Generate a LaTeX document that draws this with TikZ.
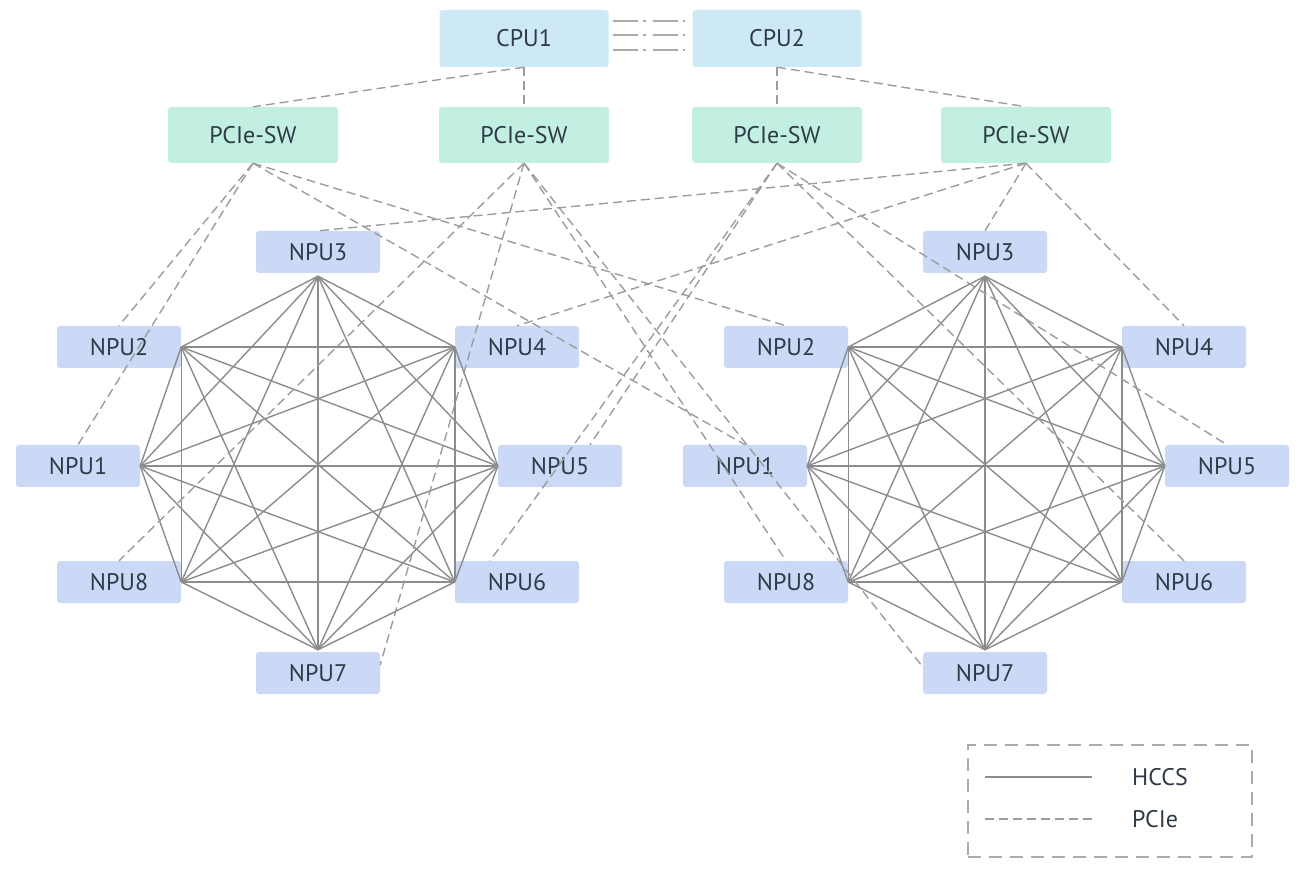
\documentclass[tikz,border=0pt]{standalone}
\usepackage{fontspec}
\setmainfont{PT Sans}
\definecolor{cpufill}{HTML}{CDE9F6}
\definecolor{swfill}{HTML}{C3EFE2}
\definecolor{npufill}{HTML}{CBD9F6}
\definecolor{txt}{HTML}{2E3B47}
\definecolor{hccsc}{HTML}{8C8C8C}
\definecolor{pciec}{HTML}{9C9C9C}
\begin{document}
\begin{tikzpicture}[x=1pt,y=-1pt,
  box/.style={rectangle, rounded corners=3pt, inner sep=0pt, text=txt,
              font=\fontsize{24}{28}\selectfont},
  cpu/.style={box, fill=cpufill, minimum width=169pt, minimum height=57pt},
  sw/.style={box, fill=swfill, minimum width=170pt, minimum height=56pt},
  npu/.style={box, fill=npufill, minimum width=124pt, minimum height=42pt},
  hccs/.style={draw=hccsc, line width=1.4pt},
  pcie/.style={draw=pciec, line width=1.4pt, dash pattern=on 9pt off 5pt},
  cpulink/.style={draw=pciec!85, line width=2.4pt, dash pattern=on 25pt off 5pt on 3pt off 7pt},
  legendframe/.style={draw=pciec!85, line width=1.5pt, dash pattern=on 13pt off 8pt},
  legendtext/.style={anchor=west, inner sep=0pt, text=txt, font=\fontsize{24}{28}\selectfont}]
\useasboundingbox (0,0) rectangle (1302,874);

% CPUs and PCIe switches
\node[cpu] (cpu1) at (524,38.5) {CPU1};
\node[cpu] (cpu2) at (777,38.5) {CPU2};
\node[sw] (sw1) at (253,135) {PCIe-SW};
\node[sw] (sw2) at (524,135) {PCIe-SW};
\node[sw] (sw3) at (777,135) {PCIe-SW};
\node[sw] (sw4) at (1026,135) {PCIe-SW};

% two groups of eight NPUs (a = left, b = right)
\foreach \g/\dx in {a/0, b/667} {
  \node[npu] (\g3) at (318+\dx,252) {NPU3};
  \node[npu] (\g2) at (119+\dx,347) {NPU2};
  \node[npu] (\g4) at (517+\dx,347) {NPU4};
  \node[npu] (\g1) at (78+\dx,466)  {NPU1};
  \node[npu] (\g5) at (560+\dx,466) {NPU5};
  \node[npu] (\g8) at (119+\dx,582) {NPU8};
  \node[npu] (\g6) at (517+\dx,582) {NPU6};
  \node[npu] (\g7) at (318+\dx,673) {NPU7};
  % HCCS ports on the inner side of each NPU
  \coordinate (\g v1) at (\g1.east);
  \coordinate (\g v2) at (\g2.east);
  \coordinate (\g v3) at ([yshift=-3pt]\g3.south);
  \coordinate (\g v4) at (\g4.west);
  \coordinate (\g v5) at (\g5.west);
  \coordinate (\g v6) at (\g6.west);
  \coordinate (\g v7) at ([yshift=2pt]\g7.north);
  \coordinate (\g v8) at (\g8.east);
  % HCCS full mesh
  \foreach \i in {1,...,7} {
    \pgfmathtruncatemacro\nxt{\i+1}
    \foreach \j in {\nxt,...,8} {
      \draw[hccs] (\g v\i) -- (\g v\j);
    }
  }
}

% CPU interconnect
\foreach \s in {17.5, 3.5, -11.5} {
  \draw[cpulink] ([xshift=4pt,yshift=\s pt]cpu1.east) -- ([xshift=-7pt,yshift=\s pt]cpu2.west);
}

% PCIe: CPU to switches
\draw[pcie] (cpu1.south) -- (sw1.north);
\draw[pcie] (cpu1.south) -- (sw2.north);
\draw[pcie] (cpu2.south) -- (sw3.north);
\draw[pcie] (cpu2.south) -- (sw4.north);

% PCIe: switches to NPUs
\draw[pcie] (sw1.south) -- (a2.north);
\draw[pcie] (sw1.south) -- (a1.north);
\draw[pcie] (sw1.south) -- (b2.north);
\draw[pcie] (sw1.south) -- (b1.north);

\draw[pcie] (sw2.south) -- (a8.north);
\draw[pcie] (sw2.south) -- ([yshift=8pt]a7.east);
\draw[pcie] (sw2.south) -- (b8.north);
\draw[pcie] (sw2.south) -- ([yshift=6pt]b7.west);

\draw[pcie] (sw3.south) -- ([xshift=30pt]a5.north);
\draw[pcie] (sw3.south) -- ([xshift=-27pt]a6.north);
\draw[pcie] (sw3.south) -- (b5.north);
\draw[pcie] (sw3.south) -- (b6.north);

\draw[pcie] (sw4.south) -- (a3.north);
\draw[pcie] (sw4.south) -- (a4.north);
\draw[pcie] (sw4.south) -- (b3.north);
\draw[pcie] (sw4.south) -- (b4.north);

% legend
\node[legendframe, rectangle, minimum width=284pt, minimum height=112pt, inner sep=0pt] (legend) at (1110,801) {};
\coordinate (hs) at (985,777);
\coordinate (he) at (1092,777);
\coordinate (ps) at (985,819);
\coordinate (pe) at (1092,819);
\draw[hccs] (hs) -- (he);
\draw[pcie] (ps) -- (pe);
\node[legendtext] (lh) at (1132,777) {HCCS};
\node[legendtext] (lp) at (1132,819) {PCIe};
\end{tikzpicture}
\end{document}
